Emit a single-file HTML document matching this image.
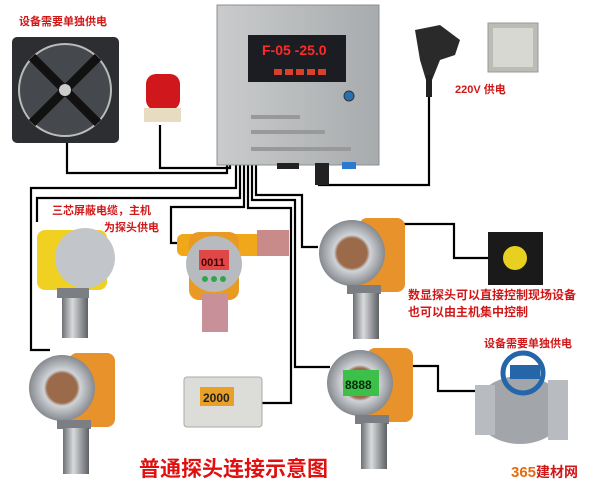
<!DOCTYPE html>
<html><head><meta charset="utf-8"><style>
html,body{margin:0;padding:0;background:#fff;}
svg{display:block;}
text{font-family:"Liberation Sans","Noto Sans CJK SC",sans-serif;font-weight:bold;}
</style></head><body>
<svg width="600" height="493" viewBox="0 0 600 493" xmlns="http://www.w3.org/2000/svg">
<defs>
<linearGradient id="cyl" x1="0" x2="1"><stop offset="0" stop-color="#6d7074"/><stop offset="0.4" stop-color="#d8dadc"/><stop offset="1" stop-color="#5d6064"/></linearGradient>
<linearGradient id="box" x1="0" x2="1"><stop offset="0" stop-color="#c9cbcc"/><stop offset="1" stop-color="#a8abad"/></linearGradient>
<radialGradient id="head"><stop offset="0.45" stop-color="#9a6a4a"/><stop offset="0.55" stop-color="#d0d4d8"/><stop offset="1" stop-color="#868a8f"/></radialGradient>
<g id="probe">
<rect x="40" y="3" width="46" height="74" rx="8" fill="#e8922c"/>
<circle cx="33" cy="38" r="33" fill="url(#head)"/>
<rect x="28" y="70" width="34" height="9" fill="#7b7e82"/>
<rect x="34" y="78" width="26" height="46" fill="url(#cyl)"/>
</g>
</defs>

<g fill="none" stroke="#000" stroke-width="2.2">
<polyline points="67,143 67,173 227,173 227,165"/>
<polyline points="160,125 160,168 230,168 230,165"/>
<polyline points="429,95 429,185 319,185 319,165"/>
<polyline points="236,165 236,188 31,188 31,350 50,350"/>
<polyline points="240,165 240,198 37,198 37,222"/>
<polyline points="244,165 244,207 171,207 171,243 178,243"/>
<polyline points="256,165 256,195 302,195 302,247 318,247"/>
<polyline points="252,165 252,200 295,200 295,367 330,367"/>
<polyline points="248,165 248,208 291,208 291,403 262,403"/>
<polyline points="402,224 454,224 454,258 488,258"/>
<polyline points="404,366 438,366 438,391 475,391"/>
</g>

<rect x="217" y="5" width="162" height="160" fill="url(#box)" stroke="#8c8f91"/>
<rect x="248" y="35" width="98" height="47" fill="#1b1d22"/>
<text x="262" y="55" font-size="14" fill="#ff2a2a" font-family="Liberation Mono,monospace">F-05 -25.0</text>
<g fill="#d8402a"><rect x="274" y="69" width="8" height="6"/><rect x="285" y="69" width="8" height="6"/><rect x="296" y="69" width="8" height="6"/><rect x="307" y="69" width="8" height="6"/><rect x="318" y="69" width="8" height="6"/></g>
<circle cx="349" cy="96" r="5" fill="#2a6fb0" stroke="#333"/>
<rect x="251" y="115" width="49" height="4" fill="#999"/>
<rect x="251" y="130" width="74" height="4" fill="#999"/>
<rect x="251" y="147" width="100" height="4" fill="#999"/>
<rect x="277" y="163" width="22" height="6" fill="#222"/>
<rect x="315" y="163" width="14" height="22" fill="#222"/>
<rect x="342" y="162" width="14" height="7" fill="#2a7ad0"/>

<text x="19" y="25" font-size="11" fill="#d01818">设备需要单独供电</text>
<rect x="12" y="37" width="107" height="106" rx="5" fill="#2c2e31"/>
<circle cx="65" cy="90" r="46" fill="#45484c" stroke="#bbb" stroke-width="2"/>
<g stroke="#111" stroke-width="9"><line x1="32" y1="57" x2="98" y2="123"/><line x1="98" y1="57" x2="32" y2="123"/></g>
<circle cx="65" cy="90" r="6" fill="#ccc"/>

<rect x="146" y="74" width="34" height="36" rx="10" fill="#d0181c"/>
<rect x="144" y="108" width="37" height="14" fill="#e8dcc0"/>

<path d="M415,30 L440,25 L460,40 L455,55 L440,60 L432,80 L426,80 L420,60 Z" fill="#2a2a2a"/>
<rect x="426" y="75" width="6" height="22" fill="#222"/>
<rect x="488" y="23" width="50" height="49" fill="#bcbcb6" stroke="#999"/>
<rect x="493" y="28" width="40" height="39" fill="#d8d8d2"/>
<text x="455" y="93" font-size="11" fill="#d01818">220V  供电</text>

<text x="52" y="214" font-size="11" fill="#d01818">三芯屏蔽电缆，主机</text>
<text x="104" y="231" font-size="11" fill="#d01818">为探头供电</text>

<g transform="translate(37,220)">
<rect x="0" y="10" width="70" height="60" rx="8" fill="#f0d020"/>
<circle cx="48" cy="38" r="30" fill="#c2c6ca"/>
<rect x="20" y="68" width="32" height="10" fill="#7b7e82"/>
<rect x="25" y="78" width="26" height="40" fill="url(#cyl)"/>
</g>
<g transform="translate(177,222)">
<rect x="0" y="12" width="112" height="22" rx="6" fill="#f0a81a"/>
<rect x="80" y="8" width="32" height="26" fill="#c98a8a"/>
<rect x="12" y="10" width="50" height="68" rx="10" fill="#e99a22"/>
<circle cx="37" cy="42" r="28" fill="#b7bbbf"/>
<rect x="22" y="28" width="30" height="20" fill="#e04848"/>
<text x="24" y="44" font-size="11" fill="#400" font-family="Liberation Mono,monospace">0011</text>
<g fill="#2ea64a"><circle cx="28" cy="57" r="3"/><circle cx="37" cy="57" r="3"/><circle cx="46" cy="57" r="3"/></g>
<rect x="25" y="72" width="26" height="38" fill="#c89098"/>
</g>
<use href="#probe" transform="translate(319,215)"/>
<use href="#probe" transform="translate(29,350)"/>
<g transform="translate(327,345)">
<use href="#probe"/>
<rect x="16" y="25" width="36" height="26" fill="#3cc04a"/>
<text x="18" y="44" font-size="12" fill="#0a2a0a" font-family="Liberation Mono,monospace">8888</text>
</g>

<rect x="184" y="377" width="78" height="50" rx="3" fill="#dcdcd8" stroke="#aaa"/>
<rect x="200" y="387" width="34" height="19" fill="#e8a028"/>
<text x="203" y="402" font-size="12" fill="#222" font-family="Liberation Mono,monospace">2000</text>

<rect x="488" y="232" width="55" height="53" fill="#1a1a1a"/>
<circle cx="515" cy="258" r="12" fill="#e8d020"/>

<text x="408" y="299" font-size="12" fill="#d01818">数显探头可以直接控制现场设备</text>
<text x="408" y="316" font-size="12" fill="#d01818">也可以由主机集中控制</text>
<text x="484" y="347" font-size="11" fill="#d01818">设备需要单独供电</text>

<ellipse cx="520" cy="410" rx="45" ry="34" fill="#a2a6aa"/>
<rect x="475" y="385" width="20" height="50" fill="#b8bcc0"/>
<rect x="548" y="380" width="20" height="60" fill="#b8bcc0"/>
<circle cx="523" cy="373" r="20" fill="none" stroke="#2466a8" stroke-width="5"/>
<rect x="510" y="365" width="30" height="14" fill="#2466a8"/>

<text x="139" y="476" font-size="21" fill="#e01010" font-weight="normal">普通探头连接示意图</text>
<text x="511" y="477" font-size="15" fill="#e86a10">365<tspan fill="#d01818" font-size="14">建材网</tspan></text>
</svg>
</body></html>
